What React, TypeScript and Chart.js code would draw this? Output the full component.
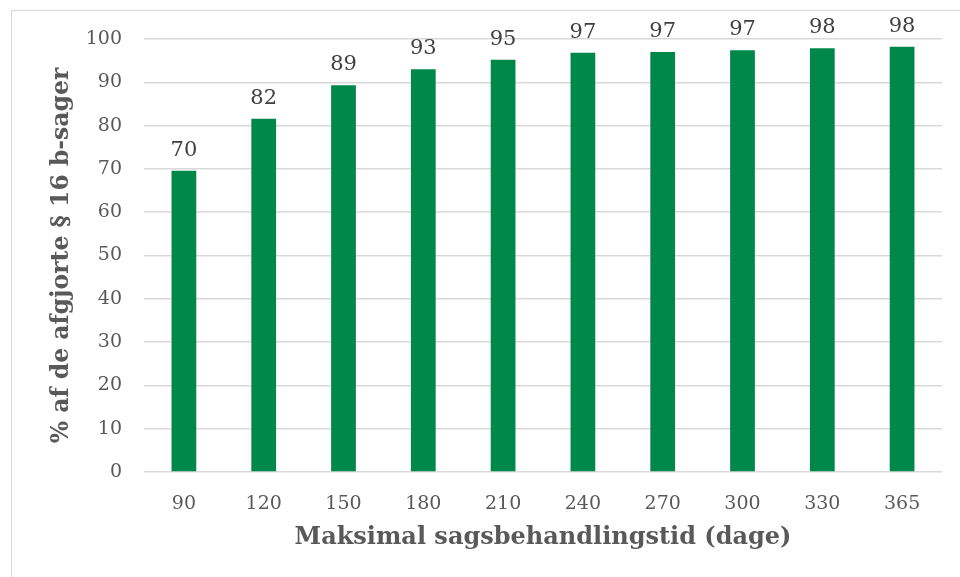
import React, { useEffect, useRef } from "react";
import { Chart, registerables } from "chart.js";

Chart.register(...registerables);

const categories = ["90", "120", "150", "180", "210", "240", "270", "300", "330", "365"];
const values = [69.6, 81.6, 89.3, 93.0, 95.2, 96.8, 97.0, 97.4, 97.85, 98.2];
const yTitle = "% af de afgjorte § 16 b-sager";
const xTitle = "Maksimal sagsbehandlingstid (dage)";

const FONT = "Georgia, 'DejaVu Serif', serif";
const TEXT = "#595959";
const GREEN = "#00874A";
const GRID = "#D9D9D9";

const labelPlugin = {
  id: "barLabels",
  afterDatasetsDraw(chart: any) {
    const ctx = chart.ctx;
    const meta = chart.getDatasetMeta(0);
    ctx.save();
    ctx.font = `21px ${FONT}`;
    ctx.fillStyle = "#404040";
    ctx.textAlign = "center";
    ctx.textBaseline = "bottom";
    meta.data.forEach((bar: any, i: number) => {
      const v = chart.data.datasets[0].data[i] as number;
      ctx.fillText(String(Math.round(v)), bar.x, bar.y - 10);
    });
    ctx.restore();
  },
};

export default function App() {
  const ref = useRef<HTMLCanvasElement>(null);
  useEffect(() => {
    if (!ref.current) return;
    const chart = new Chart(ref.current, {
      type: "bar",
      data: {
        labels: categories,
        datasets: [
          {
            data: values,
            backgroundColor: GREEN,
            barPercentage: 0.31,
            categoryPercentage: 1,
          },
        ],
      },
      options: {
        animation: false,
        responsive: false,
        layout: { padding: { left: 0, top: 39, right: 18, bottom: 0 } },
        plugins: { legend: { display: false }, tooltip: { enabled: false } },
        scales: {
          x: {
            grid: { display: false, drawTicks: false },
            border: { display: false },
            ticks: { color: TEXT, font: { family: FONT, size: 19 }, padding: 21 },
            title: {
              display: true,
              text: xTitle,
              color: TEXT,
              font: { family: FONT, size: 24, weight: "bold" },
              padding: { top: 0, bottom: 25 },
            },
            afterFit: (s: any) => {
              s.height = 105;
            },
          },
          y: {
            min: 0,
            max: 100,
            ticks: { stepSize: 10, color: TEXT, font: { family: FONT, size: 19 }, padding: 22 },
            grid: { color: GRID, lineWidth: 1.5, drawTicks: false },
            border: { display: false },
            title: {
              display: true,
              text: yTitle,
              color: TEXT,
              font: { family: FONT, size: 23.5, weight: "bold" },
              padding: { top: 48, bottom: 0 },
            },
            afterFit: (s: any) => {
              s.width = 144;
            },
          },
        },
      },
      plugins: [labelPlugin],
    });
    return () => chart.destroy();
  }, []);

  return (
    <div style={{ position: "fixed", left: 0, top: 0, width: 960, height: 577, overflow: "hidden", background: "#fff" }}>
      <div
        style={{
          position: "absolute",
          left: 11,
          top: 10,
          width: 1000,
          height: 700,
          border: "1.5px solid #D9D9D9",
        }}
      />
      <canvas ref={ref} width={960} height={577} style={{ position: "absolute", left: 0, top: 0 }} />
    </div>
  );
}
